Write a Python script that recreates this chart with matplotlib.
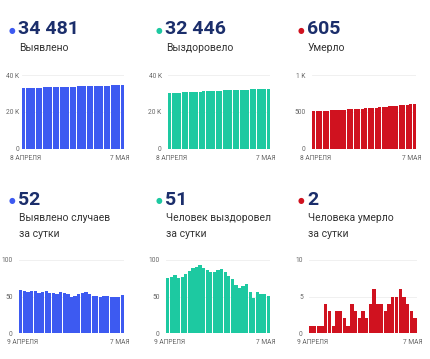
'''
covid stats dashboard, 6 small bar panels
'''

import matplotlib
matplotlib.use('Agg')
import matplotlib.pyplot as plt

W, H = 430, 359

plt.rcParams['font.family'] = ['Roboto', 'DejaVu Sans']

# cumulative, 8 April .. 7 May
cases_total = [32923, 32982, 33039, 33095, 33153, 33210, 33265, 33321, 33379, 33434,
               33489, 33543, 33599, 33654, 33707, 33757, 33808, 33861, 33916, 33972,
               34025, 34076, 34127, 34177, 34228, 34279, 34329, 34379, 34429, 34481]
recovered_total = [30295, 30370, 30447, 30526, 30601, 30678, 30759, 30844, 30933, 31024,
                   31117, 31206, 31292, 31376, 31459, 31545, 31633, 31717, 31795, 31869,
                   31935, 31997, 32061, 32128, 32184, 32232, 32288, 32341, 32395, 32446]
deaths_total = [515, 516, 517, 518, 519, 523, 526, 527, 530, 533,
                535, 536, 540, 543, 545, 548, 550, 554, 560, 564,
                568, 571, 575, 580, 585, 591, 596, 600, 603, 605]

# daily, 9 April .. 7 May
cases_daily = [59, 57, 56, 58, 57, 55, 56, 58, 55, 55, 54, 56, 55, 53, 50,
               51, 53, 55, 56, 53, 51, 51, 50, 51, 51, 50, 50, 50, 52]
recovered_daily = [75, 77, 79, 75, 77, 81, 85, 89, 91, 93, 89, 86, 84, 83, 86,
                   88, 84, 78, 74, 66, 62, 64, 67, 56, 48, 56, 53, 54, 51]
deaths_daily = [1, 1, 1, 1, 4, 3, 1, 3, 3, 2, 1, 4, 3, 2, 3,
                2, 4, 6, 4, 4, 3, 4, 5, 5, 6, 5, 4, 3, 2]

BLUE = '#3d5af1'
GREEN = '#1dc9a1'
RED = '#d0121f'
NAVY = '#1b2e6b'

fig = plt.figure(figsize=(W / 100, H / 100), dpi=100)
fig.patch.set_facecolor('white')


def px(x, y):
    # pixel coords (from top-left) -> figure fraction
    return x / W, 1 - y / H


def panel(vals, color, big, label, x0, x1, ytop, ybot, ymax, yticks, yticklabels,
          xl_left, xl_right, txt_x, num_y, lab_y, pad, xl_y):
    ax = fig.add_axes([x0 / W, 1 - ybot / H, (x1 - x0) / W, (ybot - ytop) / H])
    ax.bar(range(len(vals)), vals, width=0.9, color=color, linewidth=0)
    ax.set_xlim(-0.5, len(vals) - 0.5)
    ax.set_ylim(0, ymax)
    ax.set_yticks(yticks)
    ax.set_yticklabels(yticklabels, fontsize=4.8, color='#666666')
    ax.set_xticks([])
    ax.tick_params(axis='y', length=0, pad=pad)
    for s in ax.spines.values():
        s.set_visible(False)
    ax.grid(axis='y', color='#eeeeee', linewidth=0.6)
    ax.set_axisbelow(True)
    ax.axhline(0, color='#dddddd', linewidth=0.6, zorder=0)

    fig.text(*px(x0 - 12, xl_y), xl_left, fontsize=4.8, color='#666666',
             ha='left', va='center')
    fig.text(*px(x1 + 6, xl_y), xl_right, fontsize=4.8, color='#666666',
             ha='right', va='center')

    # big number with dot
    fig.text(*px(txt_x - 6, num_y + 1), u'\u25cf', fontsize=5.5, color=color,
             family='DejaVu Sans', ha='center', va='center')
    fig.text(*px(txt_x, num_y), big, fontsize=14, color=NAVY, fontweight='bold',
             ha='left', va='center')
    fig.text(*px(txt_x + 1, lab_y), label, fontsize=7.5, color='#333333',
             ha='left', va='top', linespacing=1.7)
    return ax


# top row
cols = [(22, 124, 18, 2), (168, 270, 165, 4.5), (312, 416, 307, 4.5)]
top = [(cases_total, BLUE, '34 481', 'Выявлено', 40000, [0, 20000, 40000], ['0', '20 K', '40 K']),
       (recovered_total, GREEN, '32 446', 'Выздоровело', 40000, [0, 20000, 40000], ['0', '20 K', '40 K']),
       (deaths_total, RED, '605', 'Умерло', 1000, [0, 500, 1000], ['0', '500', '1 K'])]
for (x0, x1, tx, pd_), (v, c, b, l, m, t, tl) in zip(cols, top):
    panel(v, c, b, l, x0, x1, 75, 149, m, t, tl, '8 АПРЕЛЯ', '7 МАЯ',
          tx, 29, 43, pd_, 159)

# bottom row
cols = [(19, 124, 18, 4.5), (166, 270, 165, 4.5), (309, 417, 307, 4.5)]
bottom = [(cases_daily, BLUE, '52', 'Выявлено случаев\nза сутки', 100, [0, 50, 100], ['0', '50', '100']),
          (recovered_daily, GREEN, '51', 'Человек выздоровел\nза сутки', 100, [0, 50, 100], ['0', '50', '100']),
          (deaths_daily, RED, '2', 'Человека умерло\nза сутки', 10, [0, 5, 10], ['0', '5', '10'])]
for (x0, x1, tx, pd_), (v, c, b, l, m, t, tl) in zip(cols, bottom):
    panel(v, c, b, l, x0, x1, 260, 333, m, t, tl, '9 АПРЕЛЯ', '7 МАЯ',
          tx, 200, 213, pd_, 343)

plt.savefig('out.png', dpi=100, facecolor='white')
